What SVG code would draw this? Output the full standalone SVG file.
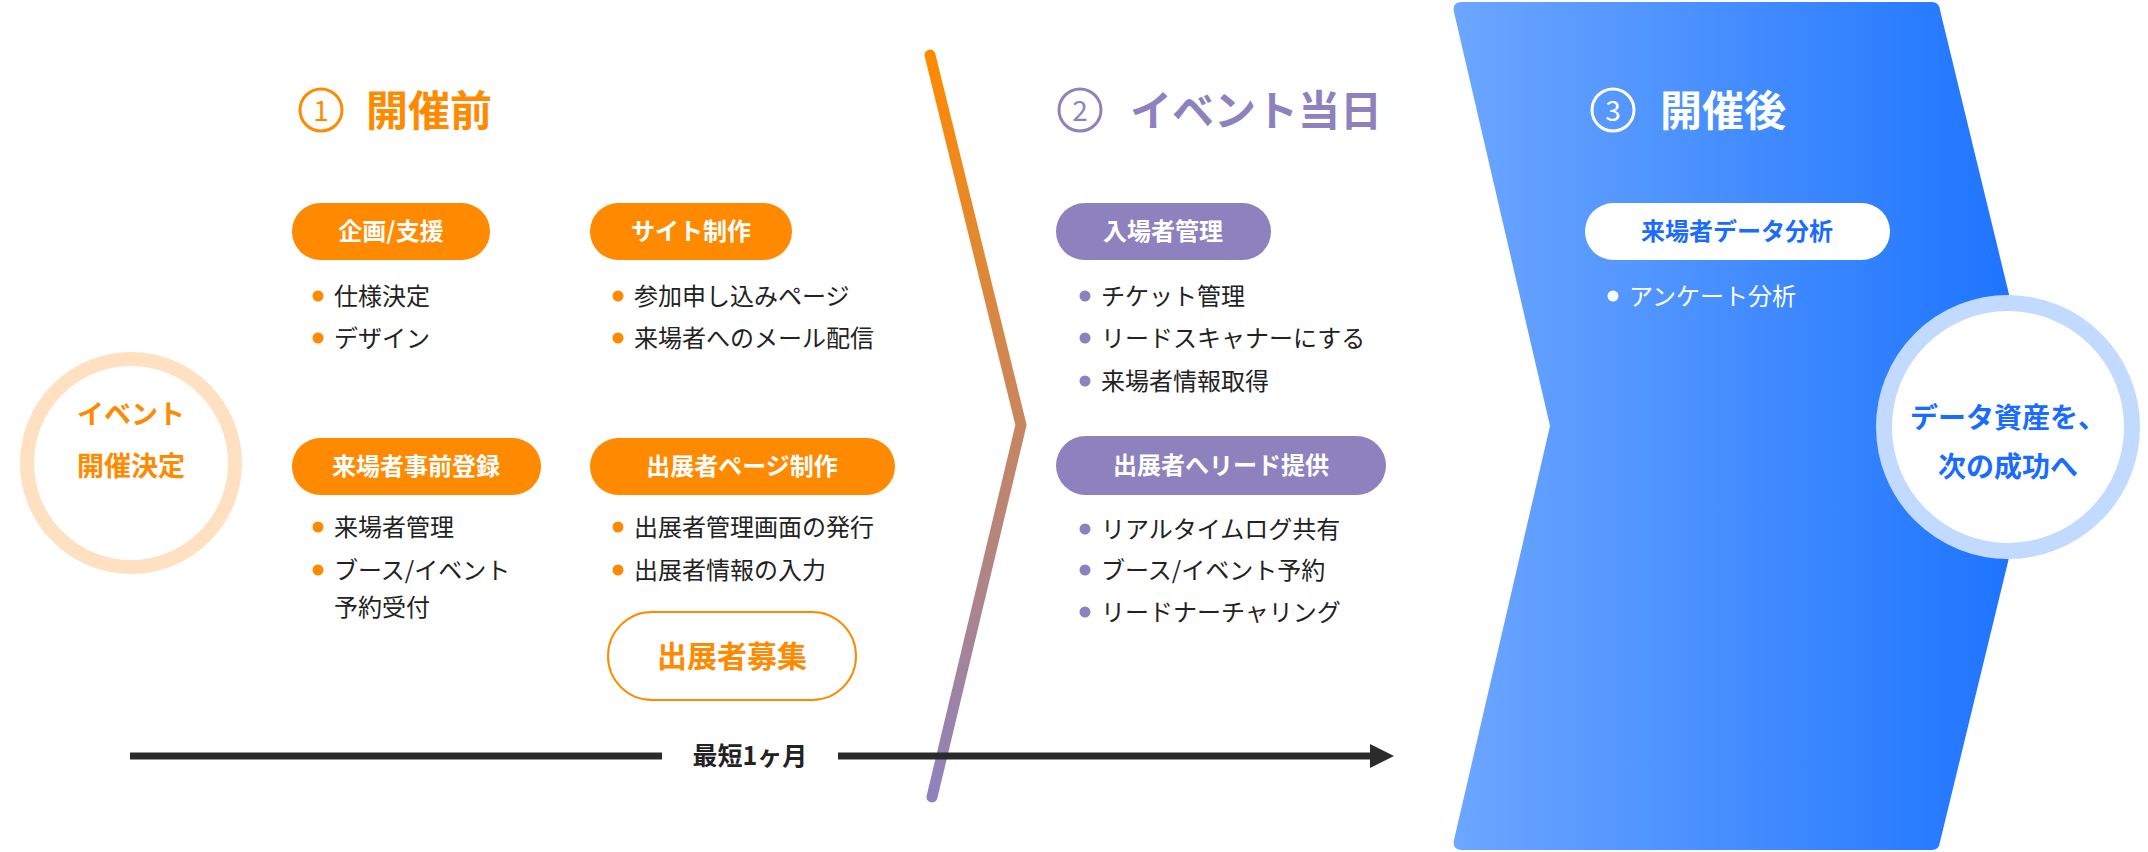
<svg xmlns="http://www.w3.org/2000/svg" width="2148" height="852" viewBox="0 0 2148 852">
<defs>
<linearGradient id="chev" x1="0" y1="0" x2="0" y2="1"><stop offset="0" stop-color="#FF8A00"/><stop offset="1" stop-color="#8E82BE"/></linearGradient>
<linearGradient id="blue" x1="0" y1="0" x2="1" y2="0"><stop offset="0" stop-color="#6CA6FF"/><stop offset="1" stop-color="#1A72FF"/></linearGradient>
<style>
text{font-family:"Noto Sans CJK JP","Noto Sans",sans-serif}
.b{font-weight:700}
.pill{font-size:24px;font-weight:700;fill:#fff;text-anchor:middle}
.li{font-size:24px;fill:#222}
.h{font-size:42px;font-weight:700}
.o{fill:#FF8A00}.p{fill:#8E82BE}
</style>
</defs>
<rect width="2148" height="852" fill="#fff"/>
<g id="phase3-bg"><path d="M1462,2 L1932,2 Q1939,2 1940,10 L2041,426 L1940,842 Q1939,850 1932,850 L1462,850 Q1452,850 1454,840 L1550,426 L1454,12 Q1452,2 1462,2 Z" fill="url(#blue)"/></g>
<g id="connectors">
<path d="M930,55 L1021,425 L932,797" fill="none" stroke="url(#chev)" stroke-width="11" stroke-linecap="round" stroke-linejoin="round"/>
<line x1="130" y1="756" x2="662" y2="756" stroke="#2b2b2b" stroke-width="7"/>
<line x1="838" y1="756" x2="1372" y2="756" stroke="#2b2b2b" stroke-width="7"/>
<polygon points="1370,744 1394,756 1370,768" fill="#2b2b2b"/>
<text x="750" y="765" font-size="25" class="b" fill="#222" text-anchor="middle">最短1ヶ月</text>
</g>
<g id="start">
<circle cx="131" cy="463" r="104" fill="#fff" stroke="#FFE1C2" stroke-width="14"/>
<text x="131" y="424" font-size="27" class="b o" text-anchor="middle">イベント</text>
<text x="131" y="476" font-size="27" class="b o" text-anchor="middle">開催決定</text>
</g>
<g id="phase1">
<circle cx="321" cy="110" r="21" fill="none" stroke="#FF8A00" stroke-width="3"/>
<text x="321" y="121" font-size="28" class="o" text-anchor="middle">1</text>
<text x="366" y="126" class="h o">開催前</text>
</g>
<g id="p1-kikaku">
<rect x="292" y="203" width="198" height="57" rx="28.5" fill="#FF8A00"/>
<text x="391" y="240" class="pill">企画/支援</text>
<circle cx="318" cy="296" r="5.5" fill="#FF8A00"/><text x="334" y="305" class="li">仕様決定</text>
<circle cx="318" cy="338" r="5.5" fill="#FF8A00"/><text x="334" y="347" class="li">デザイン</text>
</g>
<g id="p1-site">
<rect x="590" y="203" width="202" height="57" rx="28.5" fill="#FF8A00"/>
<text x="691" y="240" class="pill">サイト制作</text>
<circle cx="618" cy="296" r="5.5" fill="#FF8A00"/><text x="634" y="305" class="li">参加申し込みページ</text>
<circle cx="618" cy="338" r="5.5" fill="#FF8A00"/><text x="634" y="347" class="li">来場者へのメール配信</text>
</g>
<g id="p1-reg">
<rect x="292" y="438" width="249" height="57" rx="28.5" fill="#FF8A00"/>
<text x="416" y="475" class="pill">来場者事前登録</text>
<circle cx="318" cy="527" r="5.5" fill="#FF8A00"/><text x="334" y="536" class="li">来場者管理</text>
<circle cx="318" cy="570" r="5.5" fill="#FF8A00"/><text x="334" y="579" class="li">ブース/イベント</text>
<text x="334" y="616" class="li">予約受付</text>
</g>
<g id="p1-exh">
<rect x="590" y="438" width="305" height="57" rx="28.5" fill="#FF8A00"/>
<text x="742" y="475" class="pill">出展者ページ制作</text>
<circle cx="618" cy="527" r="5.5" fill="#FF8A00"/><text x="634" y="536" class="li">出展者管理画面の発行</text>
<circle cx="618" cy="570" r="5.5" fill="#FF8A00"/><text x="634" y="579" class="li">出展者情報の入力</text>
</g>
<g id="p1-recruit">
<rect x="608" y="612" width="248" height="88" rx="44" fill="#fff" stroke="#FF8A00" stroke-width="2"/>
<text x="732" y="667" font-size="30" class="b o" text-anchor="middle">出展者募集</text>
</g>
<g id="phase2">
<circle cx="1080" cy="110" r="21" fill="none" stroke="#8E82BE" stroke-width="3"/>
<text x="1080" y="121" font-size="28" class="p" text-anchor="middle">2</text>
<text x="1130" y="126" class="h p">イベント当日</text>
</g>
<g id="p2-entry">
<rect x="1056" y="203" width="215" height="57" rx="28.5" fill="#8E82BE"/>
<text x="1163" y="240" class="pill">入場者管理</text>
<circle cx="1085" cy="296" r="5.5" fill="#8E82BE"/><text x="1101" y="305" class="li">チケット管理</text>
<circle cx="1085" cy="338" r="5.5" fill="#8E82BE"/><text x="1101" y="347" class="li">リードスキャナーにする</text>
<circle cx="1085" cy="381" r="5.5" fill="#8E82BE"/><text x="1101" y="390" class="li">来場者情報取得</text>
</g>
<g id="p2-lead">
<rect x="1056" y="436" width="330" height="59" rx="29.5" fill="#8E82BE"/>
<text x="1221" y="474" class="pill">出展者へリード提供</text>
<circle cx="1085" cy="529" r="5.5" fill="#8E82BE"/><text x="1101" y="538" class="li">リアルタイムログ共有</text>
<circle cx="1085" cy="570" r="5.5" fill="#8E82BE"/><text x="1101" y="579" class="li">ブース/イベント予約</text>
<circle cx="1085" cy="612" r="5.5" fill="#8E82BE"/><text x="1101" y="621" class="li">リードナーチャリング</text>
</g>
<g id="phase3">
<circle cx="1613" cy="110" r="21" fill="none" stroke="#fff" stroke-width="3"/>
<text x="1613" y="121" font-size="28" fill="#fff" text-anchor="middle">3</text>
<text x="1660" y="126" class="h" fill="#fff">開催後</text>
</g>
<g id="p3-analysis">
<rect x="1585" y="203" width="305" height="57" rx="28.5" fill="#fff"/>
<text x="1737" y="240" class="pill" fill="#1A6BFF" style="fill:#1A6BFF">来場者データ分析</text>
<circle cx="1613" cy="296" r="5.5" fill="#fff"/><text x="1629" y="305" class="li" style="fill:#fff">アンケート分析</text>
</g>
<g id="goal">
<circle cx="2008" cy="427" r="124" fill="#fff" stroke="#C2DAFF" stroke-width="16"/>
<text x="2008" y="428" font-size="28" class="b" fill="#1A6BFF" text-anchor="middle">データ資産を、</text>
<text x="2008" y="477" font-size="28" class="b" fill="#1A6BFF" text-anchor="middle">次の成功へ</text>
</g>
</svg>
